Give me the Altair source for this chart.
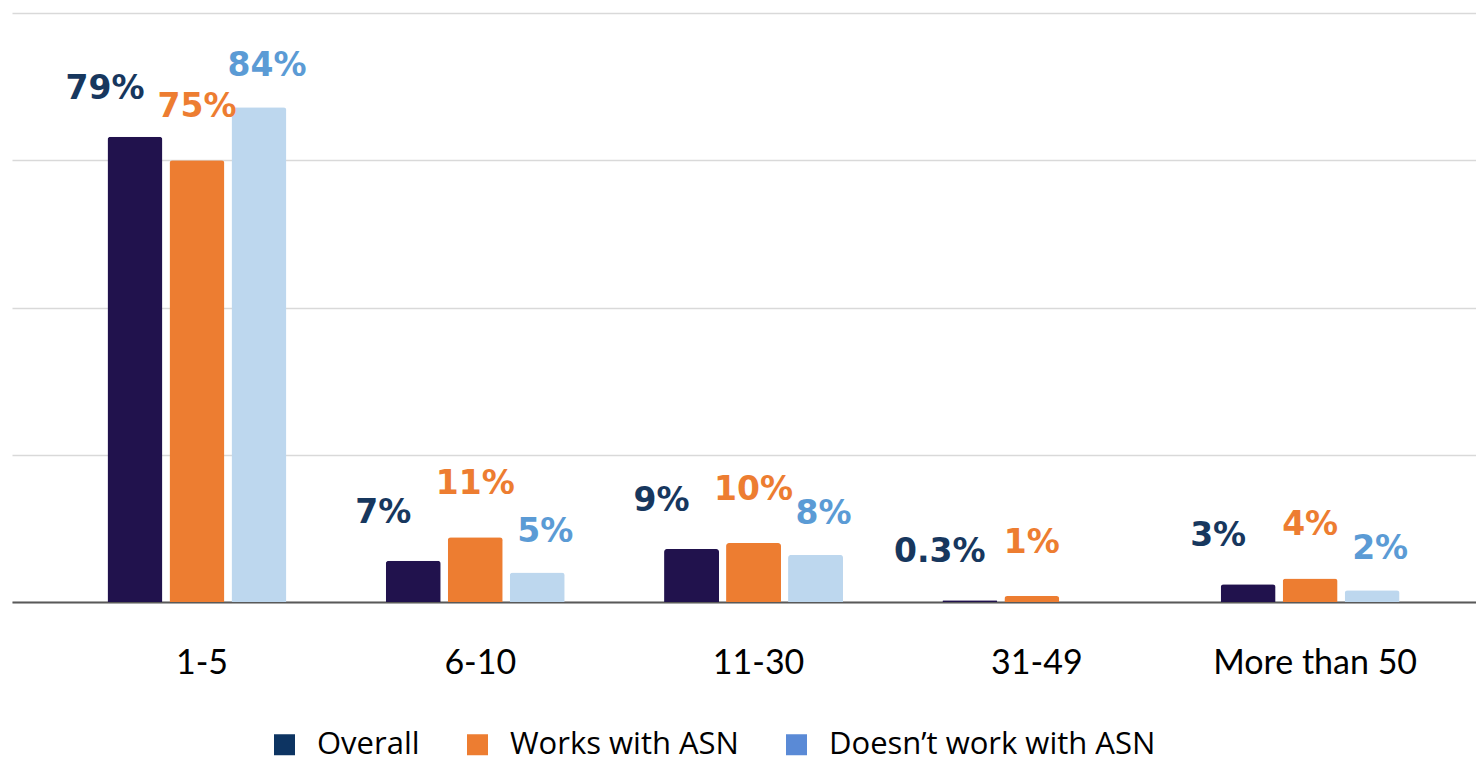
import altair as alt
import pandas as pd

categories = ["1-5", "6-10", "11-30", "31-49", "More than 50"]
series_names = ["Overall", "Works with ASN", "Doesn\u2019t work with ASN"]
overall = [79, 7, 9, 0.3, 3]
works = [75, 11, 10, 1, 4]
doesnt = [84, 5, 8, None, 2]

bar_colors = ["#21124D", "#ED7D31", "#BDD7EE"]
label_colors = ["#17375E", "#ED7D31", "#5B9BD5"]
legend_colors = ["#0D3462", "#ED7D31", "#5A8AD6"]

rows = []
for s, vals in zip(series_names, [overall, works, doesnt]):
    for c, v in zip(categories, vals):
        if v is None:
            continue
        rows.append({"category": c, "series": s, "value": v, "label": f"{v:g}%"})
df = pd.DataFrame(rows)

x_enc = alt.X(
    "category:N",
    sort=categories,
    scale=alt.Scale(paddingInner=0, paddingOuter=0.1303, align=0.632),
    axis=alt.Axis(
        title=None, labelAngle=0, labelFont="Lato", labelFontSize=34,
        labelColor="#000000", labelPadding=44, ticks=False, tickSize=0,
        domainColor="#595959", domainWidth=2, grid=False, labelOffset=5,
        labelLimit=0,
    ),
)
xo = alt.XOffset(
    "series:N", sort=series_names,
    scale=alt.Scale(domain=series_names, paddingInner=0.113, paddingOuter=0.801),
)
y_enc = alt.Y(
    "value:Q",
    scale=alt.Scale(domain=[0, 100], nice=False),
    axis=alt.Axis(
        title=None, labels=False, ticks=False, domain=False,
        values=[0, 25, 50, 75, 100], gridColor="#D9D9D9", gridWidth=1.5,
    ),
)

base = alt.Chart(df)

bars = base.mark_bar(cornerRadiusTopLeft=3, cornerRadiusTopRight=3).encode(
    x=x_enc, xOffset=xo, y=y_enc,
    fill=alt.Fill("series:N", sort=series_names, scale=alt.Scale(range=bar_colors), legend=None),
)

offsets = [(-30, -48), (0, -53), (8, -41)]
text_layers = []
for s, col, (dx, dy) in zip(series_names, label_colors, offsets):
    text_layers.append(
        base.transform_filter(alt.datum.series == s)
        .mark_text(font="DejaVu Sans", fontWeight="bold", fontSize=33, color=col,
                   dx=dx, dy=dy, baseline="middle", align="center")
        .encode(x=x_enc, xOffset=xo, y=y_enc, text="label:N")
    )

legend_layer = base.mark_square(size=441, opacity=0).encode(
    color=alt.Color(
        "series:N",
        scale=alt.Scale(domain=series_names, range=legend_colors),
        legend=alt.Legend(
            title=None, orient="none", legendX=257, legendY=716,
            direction="horizontal", symbolType="square", symbolSize=441,
            symbolStrokeWidth=0, symbolOpacity=1, labelFont="Open Sans", labelFontSize=31,
            labelColor="#000000", labelOffset=17, columnPadding=42,
            padding=0, labelLimit=0,
        ),
    ),
)

chart = alt.layer(bars, *text_layers, legend_layer).properties(
    width=1464, height=589,
    padding={"left": 4, "top": 5, "right": 0, "bottom": 0},
    background="#ffffff",
).configure_view(stroke=None)

chart.save("out.html", embed_options={"renderer": "svg", "actions": False})
